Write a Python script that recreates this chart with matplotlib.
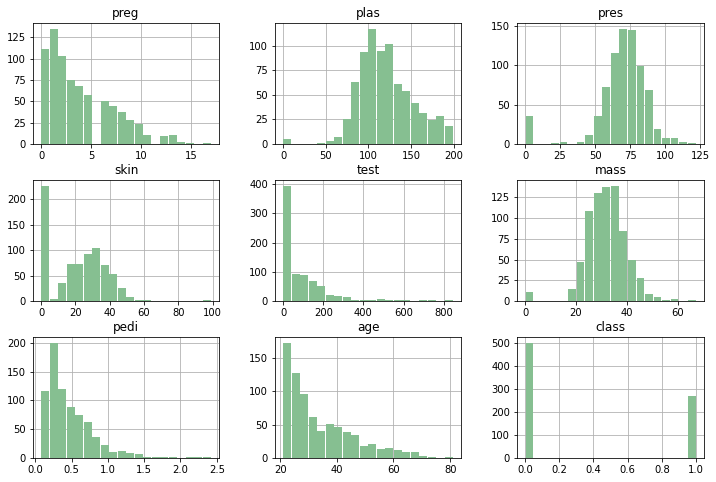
import numpy as np
import matplotlib
matplotlib.use("Agg")
import matplotlib.pyplot as plt

# column names, value ranges and 20-bin counts
names = ["preg", "plas", "pres", "skin", "test", "mass", "pedi", "age", "class"]
ranges = [(0, 17), (0, 199), (0, 122), (0, 99), (0, 846),
          (0, 67.1), (0.078, 2.42), (21, 81), (0, 1)]

preg = [111, 135, 103, 75, 68, 57, 0, 50, 45, 38, 28, 24, 11, 0, 9, 10, 2, 1, 0, 1]
plas = [5, 0, 0, 0, 1, 3, 7, 25, 63, 93, 117, 94, 102, 61, 54, 42, 31, 24, 28, 18]
pres = [35, 0, 0, 1, 2, 0, 2, 11, 35, 72, 115, 146, 145, 99, 68, 19, 7, 7, 3, 1]
skin = [227, 4, 35, 73, 73, 92, 104, 70, 53, 25, 7, 2, 2, 0, 0, 0, 0, 0, 0, 1]
test = [394, 93, 90, 69, 52, 21, 17, 14, 4, 4, 4, 7, 4, 4, 3, 0, 4, 4, 0, 3]
mass = [11, 0, 0, 0, 0, 15, 47, 109, 130, 138, 139, 84, 49, 28, 8, 5, 1, 2, 0, 1]
pedi = [117, 200, 119, 89, 75, 62, 36, 22, 10, 13, 8, 7, 1, 1, 1, 1, 0, 1, 1, 1]
age = [172, 127, 96, 61, 41, 51, 47, 39, 35, 18, 21, 14, 15, 12, 9, 9, 3, 1, 0, 1]
klass = [500, 0, 0, 0, 0, 0, 0, 0, 0, 0, 0, 0, 0, 0, 0, 0, 0, 0, 0, 268]

counts = [preg, plas, pres, skin, test, mass, pedi, age, klass]

W, H = 716, 482
fig = plt.figure(figsize=(W / 72, H / 72), dpi=72)
fig.patch.set_facecolor("white")

# axes boxes in pixels: (left, top, right, bottom)
cols = [(33, 219), (275, 461), (517, 704)]
rows = [(23, 144), (180, 301), (337, 458)]

for i, name in enumerate(names):
    r, c = divmod(i, 3)
    x0, x1 = cols[c]
    y0, y1 = rows[r]
    ax = fig.add_axes([x0 / W, 1 - y1 / H, (x1 - x0) / W, (y1 - y0) / H])
    lo, hi = ranges[i]
    edges = np.linspace(lo, hi, 21)
    centers = (edges[:-1] + edges[1:]) / 2
    ax.hist(centers, bins=edges, weights=counts[i], color="#86bf91",
            rwidth=0.9, zorder=2)
    ax.grid(True, color="#b0b0b0", linewidth=0.8, zorder=0)
    ax.set_axisbelow(True)
    ax.set_title(name, fontsize=12)
    ax.tick_params(labelsize=10)

fig.savefig("out.png", dpi=72)
